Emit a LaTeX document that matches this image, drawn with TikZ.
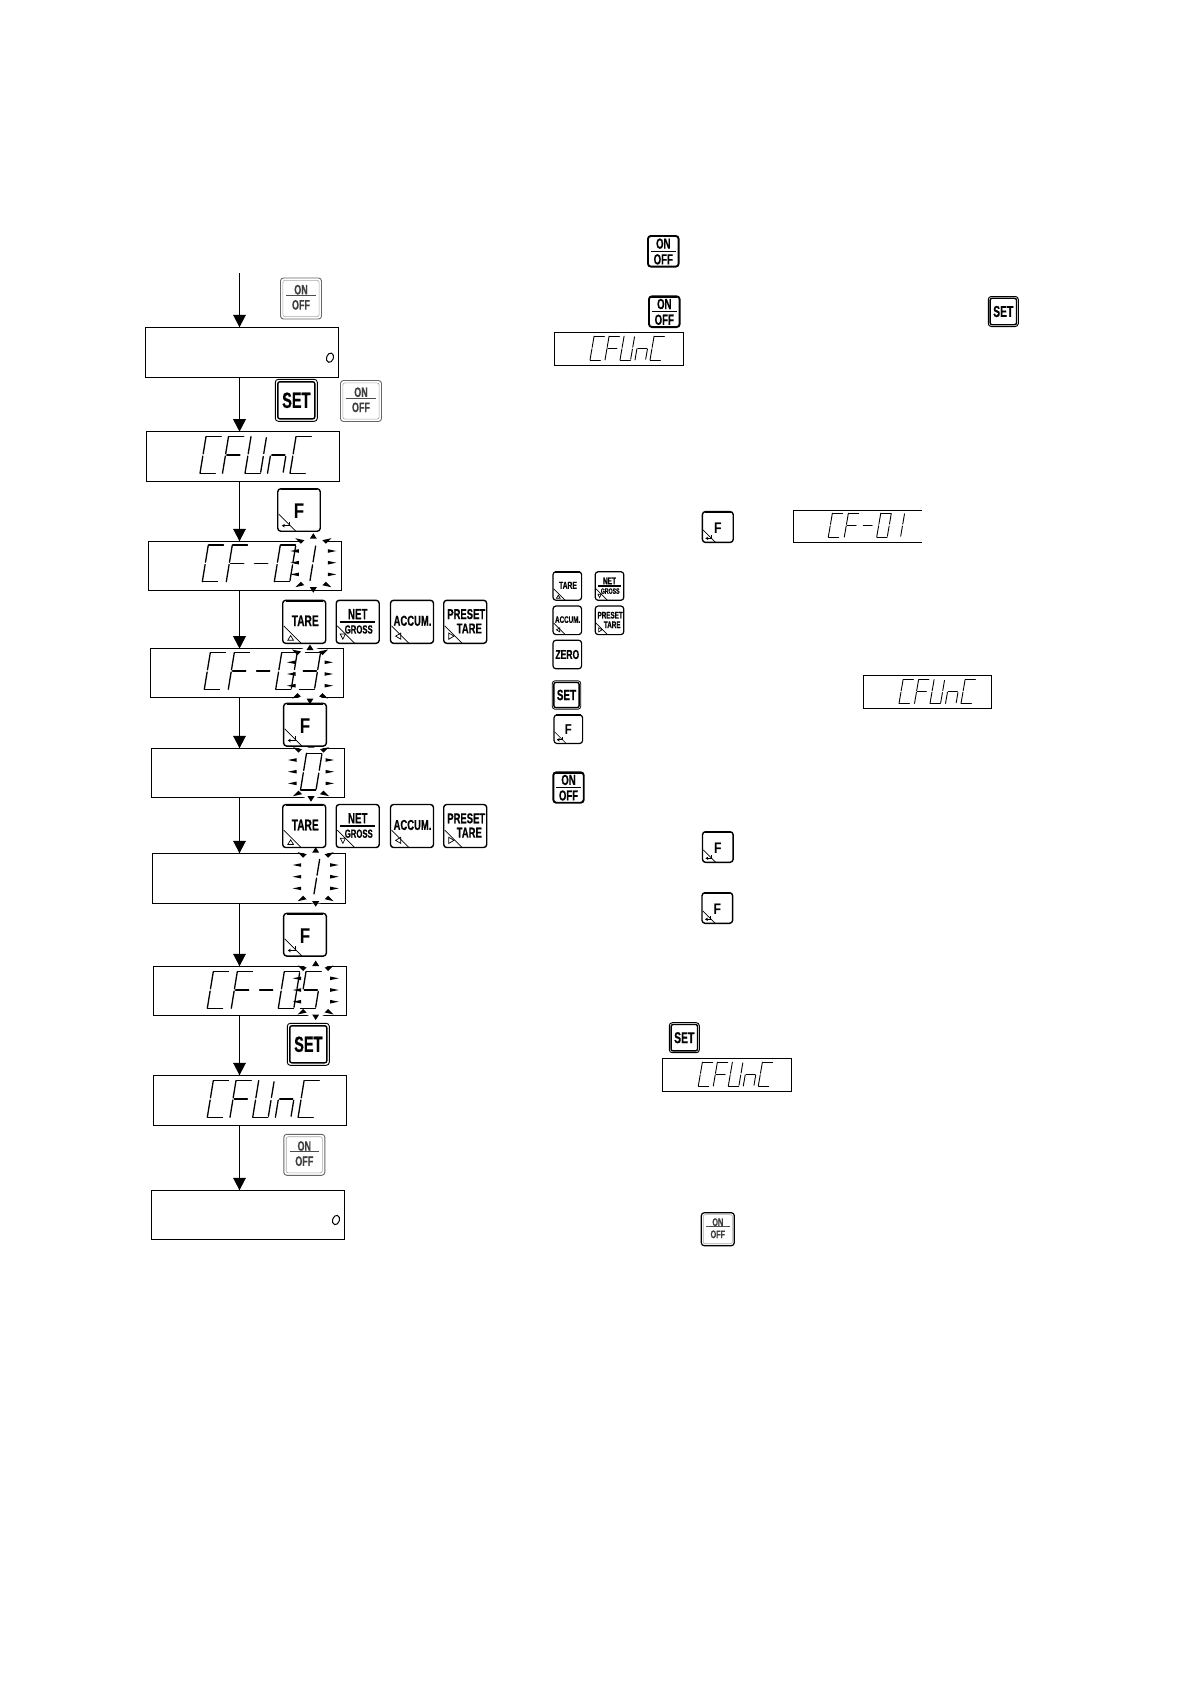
\documentclass[tikz,border=0pt]{standalone}
\usepackage{fontspec}
\usetikzlibrary{arrows.meta,calc}
\newfontfamily\keyfont[FakeStretch=0.66,FakeBold=0.5]{Liberation Sans}
\newfontfamily\keyfontF[FakeStretch=0.8]{Liberation Sans}
\tikzset{
  lcdbox/.style={draw=black,line width=1pt,inner sep=0pt,outer sep=0pt,fill=white},
  flow/.style={line width=1.8pt,-{Triangle[width=12.5pt,length=12.5pt]}},
  keybox/.style={draw=black,rounded corners=3pt,inner sep=0pt,outer sep=0pt,fill=white,line width=1.4pt},
  greykey/.style={draw=black!60,line width=.9pt},
  heavykey/.style={line width=1.9pt},
  keytxt/.style={inner sep=0pt,outer sep=0pt,transform shape,font=\keyfont\bfseries},
  small/.style={xscale=.68,yscale=.65,line width=.9pt}
}
% seven segment display
\newcommand{\segA}{\draw (.03,1)--(.95,1);}
\newcommand{\segB}{\draw (.97,.97)--(.97,.54);}
\newcommand{\segC}{\draw (.97,.46)--(.97,.03);}
\newcommand{\segD}{\draw (.03,0)--(.95,0);}
\newcommand{\segE}{\draw (0,.0)--(0,.47);}
\newcommand{\segF}{\draw (0,.53)--(0,1);}
\newcommand{\segG}{\draw (.08,.5)--(.9,.5);}
\newcommand{\lcdC}{\segA\segD\segE\segF}
\newcommand{\lcdF}{\segA\segE\segF\segG}
\newcommand{\lcdU}{\segB\segC\segD\segE\segF}
\newcommand{\lcdN}{\segC\segE\segG}
\newcommand{\lcdZero}{\segA\segB\segC\segD\segE\segF}
\newcommand{\lcdOne}{\segB\segC}
\newcommand{\lcdThree}{\segA\segB\segC\segD\segG}
\newcommand{\lcdFive}{\segA\segF\segG\segC\segD}
\newcommand{\lcdDash}{\segG}
\newcommand{\lcd}[4]{\begin{scope}[shift={(#1,#2)},line width=1.3pt,line cap=round,#3,x={(16pt,0pt)},y={(6pt,36.7pt)}]#4\end{scope}}
% CFUnC word: x, y, pitch, options
\newcommand{\cfunc}[4]{%
  \lcd{#1}{#2}{#4}{\lcdC}
  \lcd{#1+#3}{#2}{#4}{\lcdF}
  \lcd{#1+2*#3}{#2}{#4}{\lcdU}
  \lcd{#1+3*#3}{#2}{#4}{\lcdN}
  \lcd{#1+4*#3}{#2}{#4}{\lcdC}}
% CF-0 word
\newcommand{\cfzero}[5]{%
  \lcd{#1}{#2}{#4}{\lcdC}
  \lcd{#1+#3}{#2}{#4}{\lcdF}
  \lcd{#1+2*#3}{#2}{#4}{\lcdDash}
  \lcd{#5}{#2}{#4}{\lcdZero}}
% flashing marks
\newcommand{\halo}[2]{\fill[white] (#1,#2) ellipse [x radius=23,y radius=27];}
\newcommand{\flash}[2]{%
\begin{scope}[shift={(#1,#2)}]
  \foreach \dy in {-11.7,0,11.7}{
    \fill (14.5,\dy-1.8)--(23,\dy)--(14.5,\dy+1.8)--cycle;
    \fill (-14.5,\dy-1.8)--(-23,\dy)--(-14.5,\dy+1.8)--cycle;}
  \fill (-3.5,-24)--(0,-29.5)--(3.5,-24)--cycle;
  \fill (-3.5,24.5)--(0,30)--(3.5,24.5)--cycle;
  \foreach \sx in {-1,1}\foreach \sy in {-1,1}{
    \fill (\sx*18,\sy*24.5)--(\sx*9,\sy*22.5)--(\sx*12.5,\sy*19)--cycle;}
\end{scope}}
% keys
\newcommand{\key}[6]{%
  \def\kn{#1}
  \node[keybox,#5,minimum width=#4pt,minimum height=#4pt] (#1) at (#2,#3) {};
  \begin{scope}[shift={(#2,#3)},scale=#4/42]#6\end{scope}}
\newcommand{\kt}[5]{\node[keytxt] (\kn-#1) at (#2,#3) {\fontsize{#4}{#4}\selectfont #5};}
\newcommand{\kbar}{\draw[line width=2.2pt] (-18,-20.5)--(18,-20.5);}
\newcommand{\kcorner}{\draw[line width=.7pt] (-20,4)--(-3,21);}
\newcommand{\cF}{\kbar\kcorner
  \node[keytxt,font=\keyfontF\bfseries] (\kn-a) at (0,1) {\fontsize{21}{21}\selectfont F};
  \draw[line width=1pt,-{Stealth[length=3pt,width=3.5pt]}] (-9,11.5)--(-9,15.5)--(-17,15.5);}
\newcommand{\cTare}{\kbar\kcorner
  \kt{a}{1}{-1}{15}{TARE}
  \draw[line width=.7pt] (-16,18)--(-10.5,18)--(-13.2,13.5)--cycle;}
\newcommand{\cNet}{\kcorner
  \kt{a}{0}{-7.5}{14.5}{NET}
  \draw[line width=1.8pt] (-17,0)--(17,0);
  \kt{b}{1}{7.5}{11.5}{GROSS}
  \draw[line width=.7pt] (-17,12)--(-12,12)--(-14.5,17)--cycle;}
\newcommand{\cAccum}{\kcorner
  \kt{a}{.5}{-1}{14}{ACCUM.}
  \draw[line width=.7pt] (-11,11)--(-11,17)--(-16,14)--cycle;}
\newcommand{\cPreset}{\kcorner
  \kt{a}{1}{-7.5}{14}{PRESET}
  \kt{b}{4}{6.5}{14}{TARE}
  \draw[line width=.7pt] (-16,11)--(-16,17)--(-11,14)--cycle;}
\newcommand{\cZero}{\kt{a}{0}{0}{19}{ZERO}}
\newcommand{\cSet}{\draw[line width=1.4pt,rounded corners=2pt] (-18.5,-18.5) rectangle (18.5,18.5);
  \kt{a}{0}{0}{22}{SET}}
\newcommand{\cOnOffGrey}{\draw[line width=.6pt,draw=black!35,rounded corners=2pt] (-18.5,-18.5) rectangle (18.5,18.5);
  \node[keytxt,text=black!75] (\kn-a) at (0,-9) {\fontsize{14}{14}\selectfont ON};
  \draw[line width=1.1pt,black!70] (-15,-3)--(15,-3);
  \node[keytxt,text=black!75] (\kn-b) at (0,6.5) {\fontsize{14}{14}\selectfont OFF};}
\newcommand{\cOnOff}{\kbar
  \kt{a}{0}{-10.5}{20}{ON}
  \draw[line width=1.2pt] (-17,0)--(17,0);
  \kt{b}{0}{11}{20}{OFF}}
\begin{document}
\begin{tikzpicture}[x=1pt,y=-1pt]
\useasboundingbox (0,0) rectangle (1190,1684);
\fill[white] (0,0) rectangle (1190,1684);
% display boxes
\node[lcdbox,minimum width=193.4pt,minimum height=50pt] (b1) at (242,352.3) {};
\node[lcdbox,minimum width=193.4pt,minimum height=49.6pt] (b2) at (243,456.5) {};
\node[lcdbox,minimum width=193.4pt,minimum height=49pt] (b3) at (245,565.8) {};
\node[lcdbox,minimum width=193.4pt,minimum height=48.6pt] (b4) at (247,673) {};
\node[lcdbox,minimum width=193.4pt,minimum height=49pt] (b5) at (248,772.8) {};
\node[lcdbox,minimum width=193.4pt,minimum height=50pt] (b6) at (249,878.3) {};
\node[lcdbox,minimum width=193.4pt,minimum height=49pt] (b7) at (250,990.8) {};
\node[lcdbox,minimum width=193.4pt,minimum height=50pt] (b8) at (250,1100.3) {};
\node[lcdbox,minimum width=193.4pt,minimum height=49pt] (b9) at (248,1214.8) {};
% connectors
\coordinate (ax) at (239.5,0);
\coordinate (a0) at (239.5,273);
\draw[flow] (a0) -- (b1.north -| ax);
\draw[flow] (b1.south -| ax) -- (b2.north -| ax);
\draw[flow] (b2.south -| ax) -- (b3.north -| ax);
\draw[flow] (b3.south -| ax) -- (b4.north -| ax);
\draw[flow] (b4.south -| ax) -- (b5.north -| ax);
\draw[flow] (b5.south -| ax) -- (b6.north -| ax);
\draw[flow] (b6.south -| ax) -- (b7.north -| ax);
\draw[flow] (b7.south -| ax) -- (b8.north -| ax);
\draw[flow] (b8.south -| ax) -- (b9.north -| ax);
% left column readouts
\draw[line width=1pt,rotate around={72:(330,357.7)}] (330,357.7) ellipse [x radius=4.8,y radius=3.4];
\draw[line width=1pt,rotate around={72:(336,1220)}] (336,1220) ellipse [x radius=4.8,y radius=3.4];
\cfunc{200}{473.3}{22.5}{}
\halo{313.3}{562.7}
\cfzero{202.3}{581.7}{24}{}{274.3}
\lcd{294.3}{581.7}{}{\lcdOne}
\flash{313.3}{562.7}
\halo{310}{674}
\cfzero{204.3}{689.3}{24}{}{275.7}
\lcd{299}{689.3}{}{\lcdThree}
\flash{310}{674}
\halo{311}{771.7}
\lcd{300.5}{790}{}{\lcdZero}
\flash{311}{771.7}
\halo{315.7}{876.7}
\lcd{298.3}{895}{}{\lcdOne}
\flash{315.7}{876.7}
\halo{315.7}{990}
\cfzero{207.3}{1008.3}{24}{}{278.3}
\lcd{300}{1008.3}{}{\lcdFive}
\flash{315.7}{990}
\cfunc{207.3}{1117.3}{22.7}{}
% left column keys
\key{k1}{301}{298.5}{41}{greykey}{\cOnOffGrey}
\key{k2}{296.3}{400.3}{42}{line width=.9pt}{\cSet}
\key{k3}{361}{401}{41}{greykey}{\cOnOffGrey}
\key{k4}{299}{510}{42.5}{}{\cF}
\key{k5}{304.2}{621.8}{43}{}{\cTare}
\key{k6}{357.7}{621.8}{43}{}{\cNet}
\key{k7}{412}{621.8}{43}{}{\cAccum}
\key{k8}{465.2}{621.8}{43}{}{\cPreset}
\key{k9}{305}{724.7}{42.7}{}{\cF}
\key{k10}{304.2}{826}{43}{}{\cTare}
\key{k11}{357.7}{826}{43}{}{\cNet}
\key{k12}{412}{826}{43}{}{\cAccum}
\key{k13}{465.2}{826}{43}{}{\cPreset}
\key{k14}{305}{934.7}{42.7}{}{\cF}
\key{k15}{308.3}{1044.3}{42}{line width=.9pt}{\cSet}
\key{k16}{304.3}{1154.8}{41}{greykey}{\cOnOffGrey}
% right column
\key{r1}{663.3}{251.3}{30.7}{heavykey}{\cOnOff}
\key{r2}{664.3}{311.7}{30.7}{heavykey}{\cOnOff}
\key{r3}{1003.3}{311.5}{30}{line width=1pt}{\cSet}
\node[lcdbox,minimum width=129.4pt,minimum height=33.4pt] (d1) at (619,349) {};
\cfunc{590}{360}{15}{small}
\key{r4}{717.8}{527}{30.8}{}{\cF}
\node[inner sep=0pt,outer sep=0pt,minimum width=128.7pt,minimum height=32pt] (d2) at (857.6,526.3) {};
\draw[line width=1pt] (d2.north east)--(d2.north west)--(d2.south west)--(d2.south east);
\cfzero{828.3}{537}{16}{small}{876.7}
\lcd{890}{537}{small}{\lcdOne}
\key{r5}{567.3}{586}{28.6}{line width=1.2pt}{\cTare}
\key{r6}{609.5}{586}{28.6}{line width=1.2pt}{\cNet}
\key{r7}{567.3}{620.3}{28.6}{line width=1.2pt}{\cAccum}
\key{r8}{609.5}{620.3}{28.6}{line width=1.2pt}{\cPreset}
\key{r9}{567.3}{654.5}{28.6}{line width=1.2pt}{\cZero}
\key{r10}{566.5}{695}{28.6}{line width=.8pt}{\cSet}
\key{r11}{568.3}{729.2}{28.6}{line width=1.2pt}{\cF}
\key{r12}{568.5}{787.5}{30.4}{heavykey}{\cOnOff}
\node[lcdbox,minimum width=128.4pt,minimum height=33.4pt] (d3) at (927.5,692) {};
\cfunc{899}{703.5}{15.5}{small}
\key{r13}{717.8}{847}{30.6}{}{\cF}
\key{r14}{717.3}{908}{30.6}{}{\cF}
\key{r15}{684.3}{1037.7}{30}{line width=1pt}{\cSet}
\node[lcdbox,minimum width=129.4pt,minimum height=33.4pt] (d4) at (727,1075) {};
\cfunc{698.3}{1086}{15}{small}
\key{r16}{717.8}{1229.2}{33}{line width=1.2pt}{\cOnOffGrey}
\end{tikzpicture}
\end{document}
